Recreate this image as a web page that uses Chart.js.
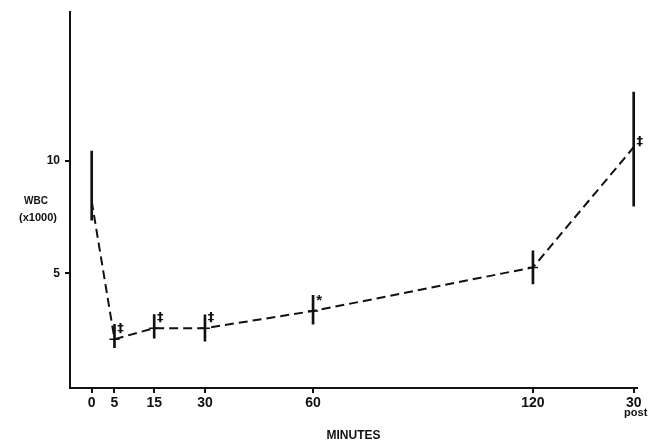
<!DOCTYPE html>
<html>
<head>
<meta charset="utf-8">
<script src="https://cdn.jsdelivr.net/npm/chart.js@4.4.1/dist/chart.umd.min.js"></script>
<style>
  html, body { margin: 0; padding: 0; background: #fff; }
  #wrap { width: 659px; height: 443px; position: relative; }
</style>
</head>
<body>
<div id="wrap"><canvas id="c"></canvas></div>
<script>
// ---- data ----
const xLabels    = ['0', '5', '15', '30', '60', '120', '30'];
const xSubLabels = ['', '', '', '', '', '', 'post'];
const xPos       = [0, 6.2, 17, 30.8, 60.2, 120, 147.4];   // axis positions of the time points
const wbcMean    = [8.2, 2.07, 2.56, 2.56, 3.32, 5.26, 10.6];
const wbcHigh    = [10.43, 2.73, 3.16, 3.15, 4.02, 6.0, 13.05];
const wbcLow     = [7.36, 1.69, 2.11, 1.98, 2.74, 4.52, 7.98];
const sigMarks   = ['', '‡', '‡', '‡', '*', '', '‡'];
const sigY       = [null, 2.55, 3.03, 3.03, 3.9, null, 10.86];
const yTicks     = [5, 10];
const yLabelLines = ['WBC', '(x1000)'];
const xTitle     = 'MINUTES';

const INK = '#111';
const FONT = "'Liberation Sans', Arial, sans-serif";

const extras = {
  id: 'extras',
  afterDatasetsDraw(chart) {
    const ctx = chart.ctx;
    const xs = chart.scales.x, ys = chart.scales.y;
    ctx.save();
    ctx.fillStyle = INK;
    // significance marks
    ctx.textAlign = 'center';
    ctx.textBaseline = 'middle';
    sigMarks.forEach((m, i) => {
      if (!m) return;
      ctx.font = (m === '*' ? 'bold 15px ' + FONT : "bold 13px 'DejaVu Sans', sans-serif");
      const px = xs.getPixelForValue(xPos[i]) + 6;
      const py = ys.getPixelForValue(sigY[i]) + (m === '*' ? 3 : 0);
      ctx.fillText(m, px, py);
    });
    // sub labels below ticks
    ctx.font = 'bold 11px ' + FONT;
    ctx.textBaseline = 'alphabetic';
    xSubLabels.forEach((s, i) => {
      if (!s) return;
      ctx.fillText(s, xs.getPixelForValue(xPos[i]) + 2, 416);
    });
    // horizontal y-axis label
    ctx.font = 'bold 10px ' + FONT;
    ctx.textBaseline = 'middle';
    ctx.fillText(yLabelLines[0], 36, 201);
    ctx.font = 'bold 11px ' + FONT;
    ctx.fillText(yLabelLines[1], 38, 218);
    ctx.restore();
  }
};

new Chart(document.getElementById('c'), {
  type: 'line',
  data: {
    datasets: [
      {
        type: 'line',
        data: xPos.map((x, i) => ({ x: x, y: wbcMean[i] })),
        borderColor: INK,
        borderWidth: 2,
        borderDash: [9, 5],
        tension: 0,
        fill: false,
        pointStyle: 'line',
        pointRadius: ctx => (ctx.dataIndex === 0 || ctx.dataIndex === xPos.length - 1) ? 0 : 5,
        pointBorderColor: INK,
        pointBorderWidth: 1.5,
        order: 1
      },
      {
        type: 'bar',
        data: xPos.map((x, i) => ({ x: x, y: [wbcLow[i], wbcHigh[i]] })),
        backgroundColor: INK,
        borderWidth: 0,
        barThickness: 2,
        order: 2
      }
    ]
  },
  options: {
    responsive: true,
    maintainAspectRatio: false,
    animation: false,
    devicePixelRatio: 1,
    layout: { padding: { left: 0, right: 22, top: 6, bottom: 0 } },
    plugins: { legend: { display: false }, tooltip: { enabled: false } },
    scales: {
      x: {
        type: 'linear',
        min: -5.9,
        max: 148.3,
        offset: false,
        afterBuildTicks: s => { s.ticks = xPos.map(v => ({ value: v })); },
        afterFit: s => { s.height = 55; },
        ticks: {
          autoSkip: false,
          maxRotation: 0,
          padding: 2,
          color: INK,
          font: { family: FONT, size: 14, weight: 'bold' },
          callback: (v, i) => xLabels[i]
        },
        grid: { display: true, offset: false, drawOnChartArea: false, drawTicks: true, tickLength: 5, color: INK, lineWidth: 2 },
        border: { display: true, color: INK, width: 2 },
        title: {
          display: true,
          text: xTitle,
          color: INK,
          font: { family: FONT, size: 12, weight: 'bold' },
          padding: { top: 0, bottom: 0 }
        }
      },
      y: {
        type: 'linear',
        min: -0.1,
        max: 16.6,
        afterBuildTicks: s => { s.ticks = yTicks.map(v => ({ value: v })); },
        afterFit: s => { s.width = 70; },
        ticks: {
          padding: 5,
          color: INK,
          font: { family: FONT, size: 12, weight: 'bold' },
          callback: v => String(v)
        },
        grid: { display: true, offset: false, drawOnChartArea: false, drawTicks: true, tickLength: 5, color: INK, lineWidth: 2 },
        border: { display: true, color: INK, width: 2 }
      }
    }
  },
  plugins: [extras]
});
</script>
</body>
</html>
